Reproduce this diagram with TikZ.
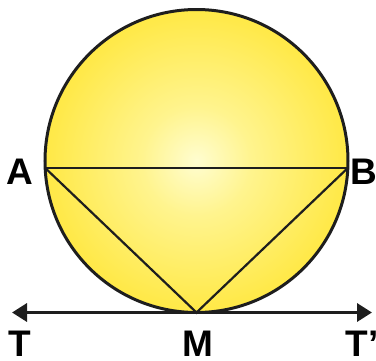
\documentclass[tikz,border=0pt]{standalone}
\usepackage{fontspec}
\setmainfont{Liberation Sans}
\usetikzlibrary{arrows.meta}
\definecolor{ballc}{HTML}{FFFDD0}
\definecolor{balla}{HTML}{FFF48E}
\definecolor{ballm}{HTML}{FFE94A}
\definecolor{ballb}{HTML}{FFDF22}
\definecolor{balle}{HTML}{FFDA10}
\definecolor{ink}{HTML}{1E1E1E}
\pgfdeclareradialshading{ballshade}{\pgfpoint{0bp}{0bp}}{color(0bp)=(ballc); color(9bp)=(balla); color(24bp)=(ballm); color(38bp)=(ballb); color(50bp)=(balle); color(100bp)=(balle)}
\tikzset{
  lbl/.style={font=\bfseries\fontsize{37}{37}\selectfont, text=black, inner sep=0pt, anchor=base},
  chord/.style={draw=ink, line width=2.2pt},
  tangent/.style={draw=ink, line width=3.4pt, {Triangle[length=15pt,width=18pt]}-{Triangle[length=15pt,width=18pt]}}
}
\begin{document}
\begin{tikzpicture}[x=1pt,y=-1pt]
\useasboundingbox (0,0) rectangle (376,360);
\coordinate (O) at (196.5,161);
\shade[shading=ballshade, draw=ink, line width=3pt] (O) circle (151.5);
\coordinate (A) at (45.2,168);
\coordinate (B) at (347.8,168);
\coordinate (M) at (196.5,312.5);
\coordinate (T0) at (12,312.5);
\coordinate (T1) at (372,312.5);
\draw[chord] (A) -- (B);
\draw[chord] (A) -- (M) -- (B);
\draw[tangent] (T0) -- (T1);
\node[lbl] (lA) at (20,184) {A};
\node[lbl] (lB) at (364,184) {B};
\node[lbl] (lT) at (20,356) {T};
\node[lbl] (lM) at (198,356) {M};
\node[lbl] (lT1) at (362,356) {T’};
\end{tikzpicture}
\end{document}
